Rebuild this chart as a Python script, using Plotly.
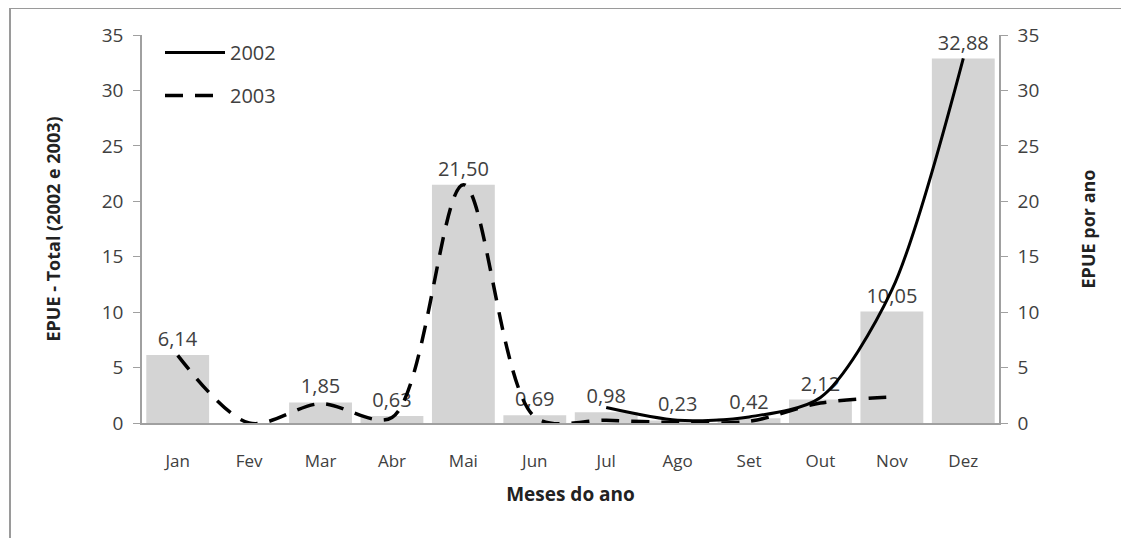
import plotly.graph_objects as go

months = ["Jan", "Fev", "Mar", "Abr", "Mai", "Jun", "Jul", "Ago", "Set", "Out", "Nov", "Dez"]
total = [6.14, None, 1.85, 0.63, 21.50, 0.69, 0.98, 0.23, 0.42, 2.12, 10.05, 32.88]
y2002 = [None, None, None, None, None, None, 1.4, 0.25, 0.55, 2.3, 12.0, 32.9]
y2003 = [6.1, 0.0, 1.75, 0.5, 21.5, 0.55, 0.25, 0.05, 0.15, 1.8, 2.35, None]

# page body has an 8px default margin; figure sized to fit the window
OFF = 8
W, H = 1129 - OFF, 538 - OFF
PL, PR, PT, PB = 142, 999, 35, 423  # plot area in screen pixels
L, R, T, B = PL - OFF, W - (PR - OFF), PT - OFF, H - (PB - OFF)
pw, ph = PR - PL, PB - PT

FONT = "Open Sans"
fig = go.Figure()
fig.add_trace(go.Bar(
    x=months, y=total, marker=dict(color="#d4d4d4", line=dict(width=0)),
    texttemplate="%{y:.2f}", textposition="outside", cliponaxis=False,
    textfont=dict(family=FONT, size=20, color="#404040"),
    showlegend=False, yaxis="y", hoverinfo="x+y",
))
fig.add_trace(go.Scatter(
    x=months, y=y2002, name="2002", mode="lines", yaxis="y2",
    line=dict(color="black", width=3, shape="spline", smoothing=0.8),
    legendgroup="a", connectgaps=False,
))
fig.add_trace(go.Scatter(
    x=months, y=y2003, name="2003", mode="lines", yaxis="y2",
    line=dict(color="black", width=3.5, dash="18px,12px", shape="spline", smoothing=0.9),
    legendgroup="b", connectgaps=False,
))

def px_x(p):
    return (p - PL) / pw

def px_y(p):
    return (PB - p) / ph

fig.update_layout(
    width=W, height=H,
    margin=dict(l=L, r=R, t=T, b=B, pad=0),
    paper_bgcolor="white", plot_bgcolor="white",
    separators=",.",
    bargap=0.12,
    font=dict(family=FONT, color="#404040"),
    xaxis=dict(
        showline=True, linecolor="#a0a0a0", linewidth=2, ticks="",
        tickfont=dict(family=FONT, size=17, color="#404040"),
        ticklabelstandoff=22,
        title=dict(text="<b>Meses do ano</b>", font=dict(family=FONT, size=19, color="#222"), standoff=16),
        showgrid=False, zeroline=False,
    ),
    yaxis=dict(
        range=[0, 35], dtick=5, showline=True, linecolor="#a0a0a0", linewidth=1.5,
        ticks="outside", ticklen=7, tickcolor="#a0a0a0",
        tickfont=dict(family=FONT, size=19, color="#404040"),
        ticklabelstandoff=6,
        title=dict(text="<b>EPUE - Total (2002 e 2003)</b>", font=dict(family=FONT, size=18, color="#222"), standoff=36),
        showgrid=False, zeroline=False,
    ),
    yaxis2=dict(
        range=[0, 35], dtick=5, overlaying="y", side="right", showline=True,
        linecolor="#a0a0a0", linewidth=1.5, ticks="outside", ticklen=7, tickcolor="#a0a0a0",
        tickfont=dict(family=FONT, size=19, color="#404040"),
        ticklabelstandoff=6,
        title=dict(text="<b>EPUE por ano</b>", font=dict(family=FONT, size=18, color="#222"), standoff=44),
        showgrid=False, zeroline=False,
    ),
    legend=dict(
        x=px_x(160), y=px_y(33), xanchor="left", yanchor="top",
        font=dict(family=FONT, size=20, color="#404040"),
        bgcolor="rgba(0,0,0,0)", tracegroupgap=14, traceorder="grouped",
        itemwidth=60,
    ),
    shapes=[dict(
        type="rect", xref="paper", yref="paper",
        x0=px_x(10), x1=px_x(1125), y0=px_y(545), y1=px_y(8),
        line=dict(color="#9a9a9a", width=2), fillcolor="rgba(0,0,0,0)", layer="below",
    )],
)

fig.write_html("out.html")
